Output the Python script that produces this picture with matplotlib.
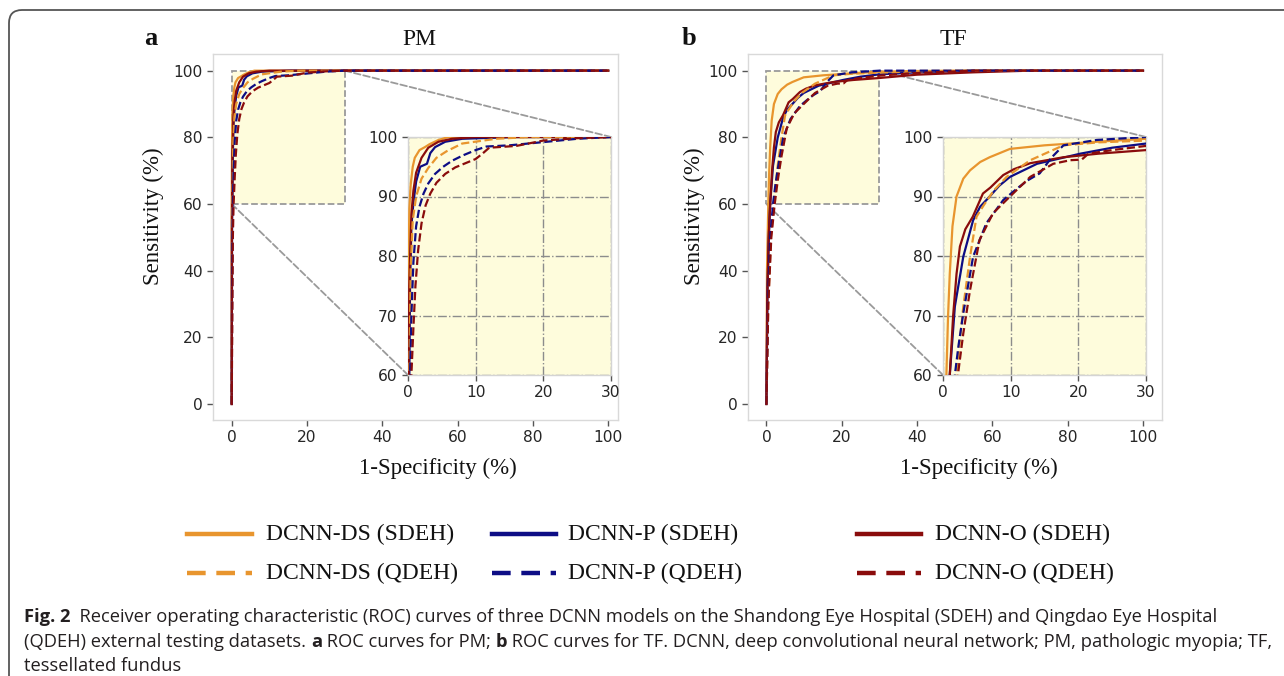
import matplotlib
matplotlib.use('Agg')
import matplotlib.pyplot as plt
from matplotlib.patches import Rectangle, FancyBboxPatch, ConnectionPatch
from matplotlib.lines import Line2D
from matplotlib.transforms import IdentityTransform

# ---------------- data (1-specificity %, sensitivity %) ----------------
series_labels = ["DCNN-DS (SDEH)", "DCNN-P (SDEH)", "DCNN-O (SDEH)",
                 "DCNN-DS (QDEH)", "DCNN-P (QDEH)", "DCNN-O (QDEH)"]

# PM panel
pm_ds_s_x = [0, 0, 0.1, 0.2, 0.4, 0.7, 1.0, 1.7, 2.5, 3.2, 4.5, 6, 100]
pm_ds_s_y = [0, 60, 80, 88, 92, 95, 96.5, 97.8, 98.3, 98.8, 99.5, 100, 100]
pm_p_s_x = [0, 0.1, 0.2, 0.3, 0.5, 0.8, 1.2, 1.8, 2.8, 3.3, 4, 5.5, 8, 16, 100]
pm_p_s_y = [0, 55, 60, 75, 85, 89, 92.5, 95, 95.5, 97.3, 98.3, 99.2, 99.7, 100, 100]
pm_o_s_x = [0, 0.05, 0.1, 0.2, 0.5, 0.8, 1.2, 2, 3, 4.5, 6.5, 10, 100]
pm_o_s_y = [0, 55, 60, 75, 87, 91, 94, 96.5, 98.2, 99.2, 99.7, 100, 100]
pm_ds_q_x = [0, 0.1, 0.2, 0.4, 0.7, 1.2, 2, 3, 4.2, 5.7, 8, 13, 18, 100]
pm_ds_q_y = [0, 50, 60, 78, 86, 90, 93, 94.8, 96.5, 97.6, 98.9, 99.7, 100, 100]
pm_p_q_x = [0, 0.15, 0.3, 0.5, 0.8, 1.2, 1.7, 2.3, 3, 4, 5.2, 6.5, 8.1, 10, 11.6, 15, 20.5, 25, 30, 100]
pm_p_q_y = [0, 50, 60, 70, 79, 85, 88.3, 90.5, 92.2, 93.8, 95, 96, 96.9, 97.8, 98.4, 98.6, 99.2, 99.7, 100, 100]
pm_o_q_x = [0, 0.3, 0.5, 0.8, 1.1, 1.5, 2, 2.6, 3.3, 4.2, 5.5, 7, 8.5, 10, 11, 12, 16, 20, 25, 30, 100]
pm_o_q_y = [0, 50, 60, 68, 75, 81, 85.5, 88.5, 90.5, 92.3, 93.8, 94.9, 95.6, 96.3, 97.2, 98.2, 98.5, 99.4, 99.8, 100, 100]

# TF panel
tf_ds_s_x = [0, 0.15, 0.5, 0.75, 1.0, 1.4, 2.0, 3.0, 4.0, 5.5, 6.9, 9.9, 15, 22.7, 30, 40, 55, 100]
tf_ds_s_y = [0, 40, 60, 70, 77, 85, 90, 93, 94.4, 95.8, 96.6, 98, 98.6, 99.2, 99.7, 99.9, 100, 100]
tf_p_s_x = [0, 0.3, 0.7, 1.0, 1.75, 3.0, 4.45, 5.5, 6.9, 8.3, 9.9, 13.9, 20.3, 25, 30, 40, 55, 100]
tf_p_s_y = [0, 35, 52, 60, 71.5, 79.9, 86, 88.3, 90, 91.8, 93.3, 95.5, 97.2, 98.2, 98.9, 99.5, 100, 100]
tf_o_s_x = [0, 0.2, 0.6, 1.0, 1.5, 2.0, 2.5, 3.3, 4.4, 5.9, 7.0, 8.9, 10.5, 12.9, 17.8, 23, 30, 40, 55, 70, 100]
tf_o_s_y = [0, 30, 50, 60, 70, 77, 81.6, 84.5, 86.6, 90.5, 91.5, 93.6, 94.6, 95.6, 96.6, 97.2, 97.8, 98.8, 99.5, 100, 100]
tf_ds_q_x = [0, 0.5, 1.2, 2.0, 3.0, 4.0, 4.95, 6.0, 7.5, 9.4, 12.9, 17.8, 23, 30, 40, 55, 100]
tf_ds_q_y = [0, 30, 50, 60, 71.5, 79.9, 86.6, 88.5, 91, 93.3, 96.1, 98.6, 99.1, 99.4, 99.8, 100, 100]
tf_p_q_x = [0, 0.4, 1.0, 1.75, 2.3, 3.0, 4.45, 6.4, 8.9, 10.9, 12.5, 14.3, 16, 17.8, 22.7, 30, 40, 100]
tf_p_q_y = [0, 30, 50, 60, 65, 70.4, 79.9, 85.5, 89.4, 91.3, 92.7, 93.9, 96.5, 98.6, 99.5, 100, 100, 100]
tf_o_q_x = [0, 0.5, 1.3, 2.2, 3.0, 4.0, 5.4, 7.4, 9.9, 12.9, 16.3, 18.8, 20.5, 21.5, 25, 30, 40, 55, 100]
tf_o_q_y = [0, 30, 50, 60, 67, 74.3, 82.7, 87.2, 90, 93.3, 95.5, 96.1, 96.2, 97.2, 97.8, 98.5, 99.3, 100, 100]

main_xticks = [0, 20, 40, 60, 80, 100]
main_yticks = [0, 20, 40, 60, 80, 100]
inset_xticks = [0, 10, 20, 30]
inset_yticks = [60, 70, 80, 90, 100]
panel_titles = ["PM", "TF"]
panel_letters = ["a", "b"]

# ---------------- styling ----------------
W, H = 1284, 676
ORANGE = '#e8952e'
NAVY = '#0d0d85'
DRED = '#8a0c0c'
YELLOW = '#fefcdc'
colors = [ORANGE, NAVY, DRED, ORANGE, NAVY, DRED]
styles = ['-', '-', '-', '--', '--', '--']
SERIF = ['Liberation Serif', 'DejaVu Serif']

fig = plt.figure(figsize=(W / 100, H / 100), dpi=100)


def box(l, t, r, b):
    return [l / W, 1 - b / H, (r - l) / W, (b - t) / H]


def fx(x):
    return x / W


def fy(y):
    return 1 - y / H


pm_series = [(pm_ds_s_x, pm_ds_s_y), (pm_p_s_x, pm_p_s_y), (pm_o_s_x, pm_o_s_y),
             (pm_ds_q_x, pm_ds_q_y), (pm_p_q_x, pm_p_q_y), (pm_o_q_x, pm_o_q_y)]
tf_series = [(tf_ds_s_x, tf_ds_s_y), (tf_p_s_x, tf_p_s_y), (tf_o_s_x, tf_o_s_y),
             (tf_ds_q_x, tf_ds_q_y), (tf_p_q_x, tf_p_q_y), (tf_o_q_x, tf_o_q_y)]

panels = [
    dict(series=pm_series, main=(213, 54, 618, 420), xlim=(-4.97, 102.6),
         inset=(408, 137, 611, 375), ylab=(153, 216), xlab=(438, 468),
         title_x=419, letter_x=151),
    dict(series=tf_series, main=(748, 54, 1162, 420), xlim=(-4.89, 105.05),
         inset=(943, 137, 1146, 375), ylab=(694, 216), xlab=(979, 468),
         title_x=953, letter_x=689),
]


def style_axes(ax, spine_color):
    for s in ax.spines.values():
        s.set_color(spine_color)
        s.set_linewidth(1)
    ax.tick_params(direction='out', length=4.5, width=1, color='#555555',
                   labelsize=11.2, labelcolor='#262626', pad=3)


for i, p in enumerate(panels):
    ax = fig.add_axes(box(*p['main']))
    ax.set_xlim(*p['xlim'])
    ax.set_ylim(-4.8, 105)
    ax.set_xticks(main_xticks)
    ax.set_yticks(main_yticks)
    style_axes(ax, '#d9d9d9')
    ax.add_patch(Rectangle((0, 60), 30, 40, facecolor=YELLOW, edgecolor='#9a9a9a',
                           ls='--', lw=1.3, zorder=1))
    for (xs, ys), c, ls in zip(p['series'], colors, styles):
        ax.plot(xs, ys, color=c, ls=ls, lw=1.6, zorder=2)

    axins = fig.add_axes(box(*p['inset']))
    axins.set_facecolor(YELLOW)
    axins.set_xlim(0, 30)
    axins.set_ylim(60, 100)
    axins.set_xticks(inset_xticks)
    axins.set_yticks(inset_yticks)
    style_axes(axins, '#d4d4d4')
    axins.grid(True, ls='-.', color='#8c8c8c', lw=1)
    for (xs, ys), c, ls in zip(p['series'], colors, styles):
        axins.plot(xs, ys, color=c, ls=ls, lw=1.6, zorder=3)

    for xy in [(30, 100), (0, 60)]:
        con = ConnectionPatch(xyA=xy, coordsA=ax.transData, xyB=xy, coordsB=axins.transData,
                              ls='--', color='#9a9a9a', lw=1.3, zorder=1)
        ax.add_artist(con)

    fig.text(fx(p['ylab'][0]), fy(p['ylab'][1]), "Sensitivity (%)", rotation=90,
             ha='center', va='center', fontsize=16.5, family=SERIF, color='#111111')
    fig.text(fx(p['xlab'][0]), fy(p['xlab'][1]), "1-Specificity (%)",
             ha='center', va='center', fontsize=16.5, family=SERIF, color='#111111')
    fig.text(fx(p['title_x']), fy(45), panel_titles[i], ha='center', va='baseline',
             fontsize=17, family=SERIF, color='#111111')
    fig.text(fx(p['letter_x']), fy(45), panel_letters[i], ha='center', va='baseline',
             fontsize=19, fontweight='bold', family=SERIF, color='#111111')

# ---------------- legend (manual layout) ----------------
leg_cols = [(187, 252, 266), (492, 556, 568), (857, 921, 935)]
leg_rows = [534, 573]
for j in range(6):
    col = j % 3
    row = j // 3
    hx0, hx1, tx = leg_cols[col]
    y = leg_rows[row]
    ln = Line2D([fx(hx0), fx(hx1)], [fy(y), fy(y)], transform=fig.transFigure,
                color=colors[j], lw=3.2)
    if styles[j] == '--':
        ln.set_dashes((4.2, 2.4))
    fig.add_artist(ln)
    fig.text(fx(tx), fy(y), series_labels[j], ha='left', va='center', fontsize=17,
             family=SERIF, color='#111111')

# ---------------- caption ----------------
cap_lines = [
    [("Fig. 2", True), ("  Receiver operating characteristic (ROC) curves of three DCNN models on the "
                        "Shandong Eye Hospital (SDEH) and Qingdao Eye Hospital", False)],
    [("(QDEH) external testing datasets. ", False), ("a", True), (" ROC curves for PM; ", False),
     ("b", True), (" ROC curves for TF. DCNN, deep convolutional neural network; PM, "
                   "pathologic myopia; TF,", False)],
    [("tessellated fundus", False)],
]
CAPFONT = ['Open Sans', 'DejaVu Sans']
renderer = fig.canvas.get_renderer()


def draw_segments(segs, x0, y, size, keep=True):
    x = x0
    made = []
    for txt, bold in segs:
        t = fig.text(fx(x), fy(y), txt, fontsize=size, family=CAPFONT,
                     fontweight='bold' if bold else 'normal', va='baseline', ha='left',
                     color='#231f20')
        bb = t.get_window_extent(renderer)
        x += bb.width
        made.append(t)
    if not keep:
        for t in made:
            t.remove()
    return x - x0


base = 12
w1 = draw_segments(cap_lines[0], 24, 622, base, keep=False)
size = base * (1192 / w1)
cap_y = [622, 647, 671]
for segs, y in zip(cap_lines, cap_y):
    draw_segments(segs, 24, y, size)

# ---------------- outer frame ----------------
frame = FancyBboxPatch((9, -30), 1320, 676 - 10 + 30, boxstyle='round,pad=0,rounding_size=13',
                       transform=IdentityTransform(), fill=False, ec='#555555', lw=1.3)
fig.add_artist(frame)

fig.savefig('out.png', dpi=100)
